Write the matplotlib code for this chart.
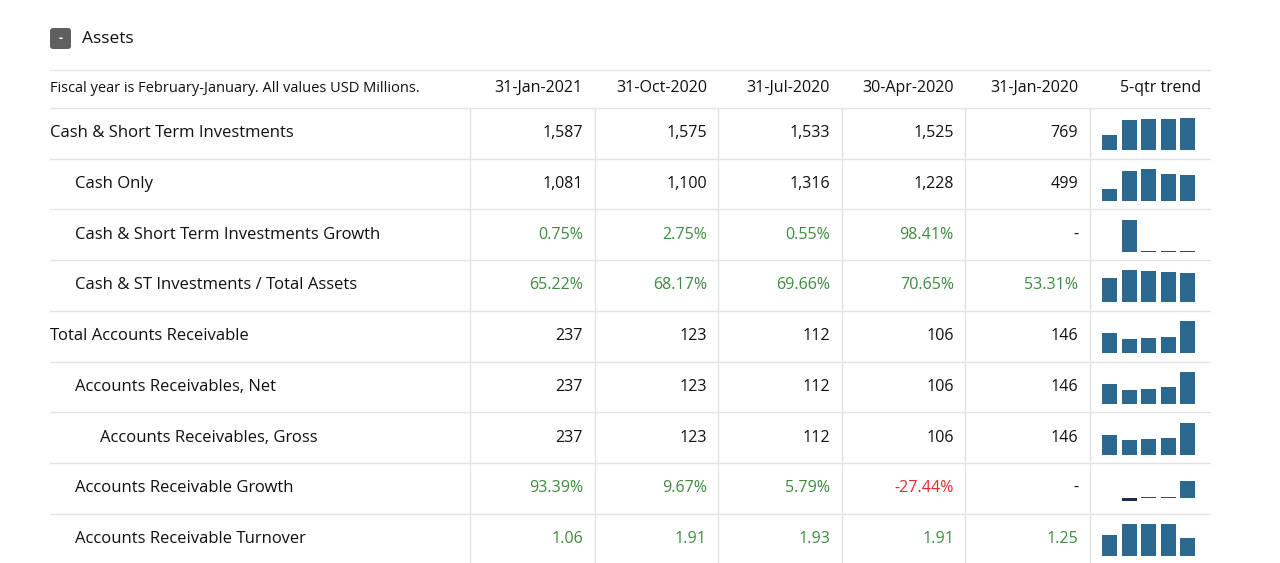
import matplotlib
matplotlib.use("Agg")
import matplotlib.pyplot as plt
from matplotlib.patches import Rectangle, FancyBboxPatch

title = "Assets"
note = "Fiscal year is February-January. All values USD Millions."
dates = ["31-Jan-2021", "31-Oct-2020", "31-Jul-2020", "30-Apr-2020", "31-Jan-2020"]
trend_label = "5-qtr trend"
row_labels = ["Cash & Short Term Investments", "Cash Only", "Cash & Short Term Investments Growth",
              "Cash & ST Investments / Total Assets", "Total Accounts Receivable",
              "Accounts Receivables, Net", "Accounts Receivables, Gross",
              "Accounts Receivable Growth", "Accounts Receivable Turnover"]
indent = [0, 1, 1, 1, 0, 1, 2, 1, 1]
# values per row, newest -> oldest (None = "-")
values = [
    [1587, 1575, 1533, 1525, 769],
    [1081, 1100, 1316, 1228, 499],
    [0.75, 2.75, 0.55, 98.41, None],
    [65.22, 68.17, 69.66, 70.65, 53.31],
    [237, 123, 112, 106, 146],
    [237, 123, 112, 106, 146],
    [237, 123, 112, 106, 146],
    [93.39, 9.67, 5.79, -27.44, None],
    [1.06, 1.91, 1.93, 1.91, 1.25],
]
kind = ["int", "int", "pct", "pct", "int", "int", "int", "pct", "dec"]

GREEN = "#3d8b3d"
RED = "#e8262b"
BAR = "#2b6890"
NAVY = "#1e2a4c"
LINE = "#e3e3e3"
TXT = "#111111"
FONT = "Open Sans"

fig = plt.figure(figsize=(12.8, 5.63), dpi=100)
ax = fig.add_axes([0, 0, 1, 1])
ax.set_xlim(0, 1280)
ax.set_ylim(563, 0)
ax.axis("off")

# header
ax.add_patch(FancyBboxPatch((50, 28), 21, 21, boxstyle="round,pad=0,rounding_size=3",
                            facecolor="#5f5f5f", edgecolor="none"))
ax.text(60.5, 38.5, "-", color="white", fontsize=9, ha="center", va="center", family=FONT, weight="bold")
ax.text(82, 39, title, fontsize=12.5, ha="left", va="center", family=FONT, color=TXT)
ax.plot([50, 1210], [70, 70], color=LINE, lw=1)
ax.text(50, 88, note, fontsize=10.5, ha="left", va="center", family=FONT, color=TXT)
col_right = [583, 707, 830, 954, 1078]
for d, xr in zip(dates, col_right):
    ax.text(xr, 88, d, fontsize=11.5, ha="right", va="center", family=FONT, color=TXT)
ax.text(1201, 88, trend_label, fontsize=11.5, ha="right", va="center", family=FONT, color=TXT)

row_h = 50.7
top = 108
ax.plot([50, 1210], [top, top], color=LINE, lw=1)
for xs in [470, 595, 718, 842, 965, 1090]:
    ax.plot([xs, xs], [top, 563], color=LINE, lw=1)

def fmt(v, k):
    if v is None:
        return "-"
    if k == "int":
        return f"{v:,.0f}"
    if k == "pct":
        return f"{v:.2f}%"
    return f"{v:.2f}"

for i, (lab, ind, vals, k) in enumerate(zip(row_labels, indent, values, kind)):
    cy = top + row_h * (i + 0.5)
    ax.plot([50, 1210], [top + row_h * (i + 1)] * 2, color=LINE, lw=1)
    ax.text(50 + 25 * ind, cy, lab, fontsize=12, ha="left", va="center", family=FONT, color=TXT)
    for v, xr in zip(vals, col_right):
        if k == "int" or v is None:
            c = TXT
        else:
            c = RED if v < 0 else GREEN
        ax.text(xr, cy, fmt(v, k), fontsize=11.5, ha="right", va="center", family=FONT, color=c)
    # sparkline, oldest -> newest
    seq = vals[::-1]
    present = [x for x in seq if x is not None]
    mx = max(abs(x) for x in present)
    has_neg = min(present) < 0
    base = cy + (10 if has_neg else 17)
    hmax = 17 if has_neg else 32
    for j, v in enumerate(seq):
        x0 = 1102 + j * 19.6
        if v is None:
            continue
        if v < 0:
            ax.add_patch(Rectangle((x0, base), 15, 3, facecolor=NAVY, edgecolor="none"))
            continue
        h = v / mx * hmax
        if h < 2:
            ax.add_patch(Rectangle((x0, base - 1), 15, 1.2, facecolor="#444", edgecolor="none"))
        else:
            ax.add_patch(Rectangle((x0, base - h), 15, h, facecolor=BAR, edgecolor="none"))

fig.savefig("out.png", dpi=100)
